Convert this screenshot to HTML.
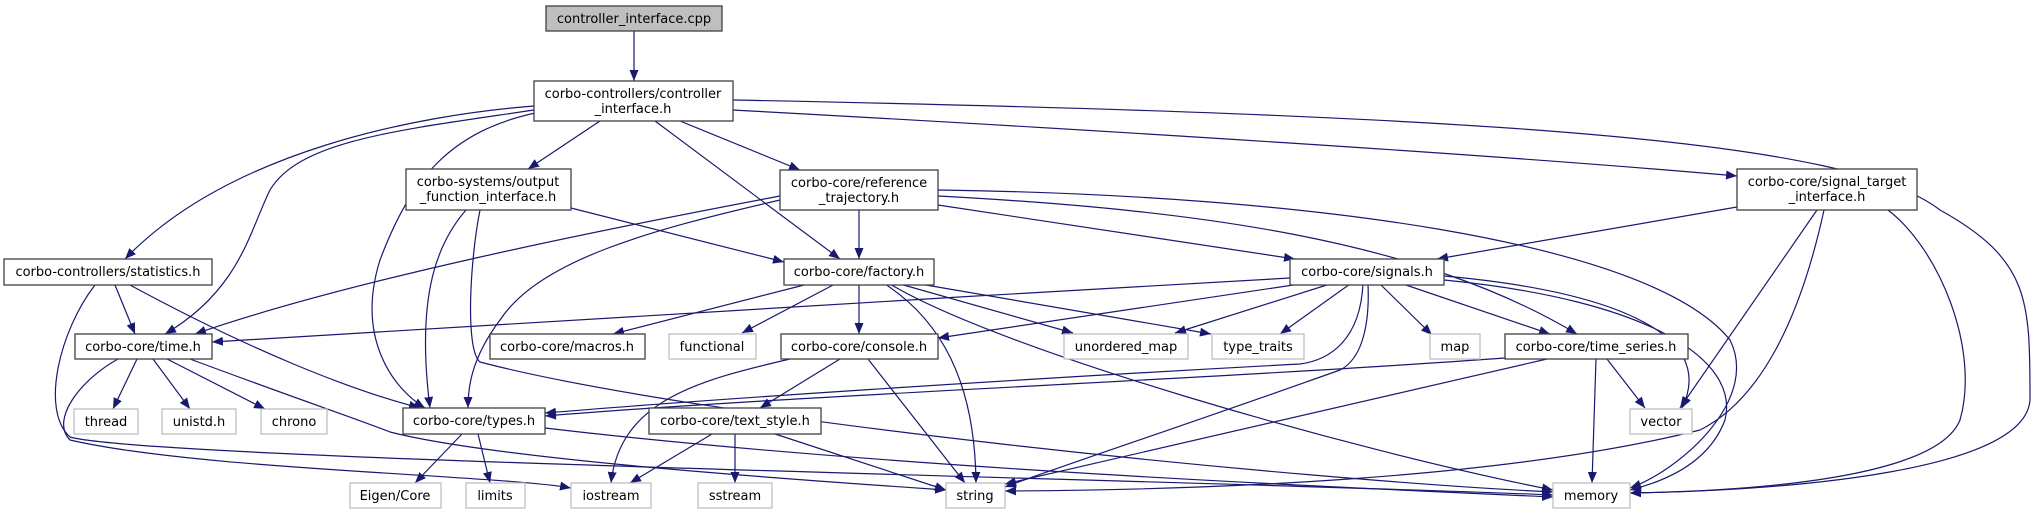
<!DOCTYPE html>
<html><head><meta charset="utf-8"><style>
html,body{margin:0;padding:0;background:#fff;}
svg{display:block;}
text{font-family:"DejaVu Sans","Liberation Sans",sans-serif;font-size:13px;fill:#000;}
.n{fill:#fff;stroke:#404040;stroke-width:1.3;}
.g{fill:#fff;stroke:#bfbfbf;stroke-width:1.3;}
.e{fill:none;stroke:#191970;stroke-width:1.2;marker-end:url(#a);}
</style></head><body>
<svg width="2035" height="515" viewBox="0 0 2035 515" xmlns="http://www.w3.org/2000/svg">
<defs><marker id="a" markerUnits="userSpaceOnUse" markerWidth="12" markerHeight="10" refX="11" refY="4.5" orient="auto"><path d="M0,0 L11,4.5 L0,9 Z" fill="#191970"/></marker></defs>
<rect width="2035" height="515" fill="#fff"/>
<g>
<path class="e" d="M634,31 L634,81"/>
<path class="e" d="M534,106 C420,115 230,150 125,259"/>
<path class="e" d="M534,110 C400,130 300,140 270,190 C250,230 240,290 165,334"/>
<path class="e" d="M540,112 C450,130 410,180 380,260 C355,340 395,390 425,408"/>
<path class="e" d="M600,121 L528,169"/>
<path class="e" d="M655,121 L840,259"/>
<path class="e" d="M680,121 L800,170"/>
<path class="e" d="M733,110 C1100,130 1500,155 1737,176"/>
<path class="e" d="M733,100 C1500,115 1850,140 1940,210 C2030,260 2030,300 2030,400 C2025,470 1800,490 1630,493"/>
<path class="e" d="M571,208 L784,262"/>
<path class="e" d="M466,210 C440,240 415,290 430,408"/>
<path class="e" d="M480,210 C470,260 465,350 480,362 C700,420 1300,480 1553,492"/>
<path class="e" d="M780,196 C600,230 350,280 195,334"/>
<path class="e" d="M780,200 C650,230 540,260 500,320 C470,360 468,390 468,408"/>
<path class="e" d="M859,210 L859,259"/>
<path class="e" d="M938,205 L1295,259"/>
<path class="e" d="M938,196 C1200,210 1420,240 1577,334"/>
<path class="e" d="M938,190 C1300,195 1650,240 1730,340 C1760,400 1680,470 1630,488"/>
<path class="e" d="M115,285 L135,334"/>
<path class="e" d="M130,285 C250,350 350,390 420,408"/>
<path class="e" d="M95,285 C60,330 40,410 70,437 C150,460 1200,480 1553,495"/>
<path class="e" d="M137,359 L113,409"/>
<path class="e" d="M153,359 L190,409"/>
<path class="e" d="M167,359 L265,409"/>
<path class="e" d="M118,359 C80,380 50,420 70,440 C200,470 500,475 571,488"/>
<path class="e" d="M190,359 C300,400 360,420 390,432 C500,460 800,480 946,490"/>
<path class="e" d="M462,434 L415,483"/>
<path class="e" d="M478,434 L490,483"/>
<path class="e" d="M545,428 C900,470 1400,490 1553,497"/>
<path class="e" d="M808,284 L613,334"/>
<path class="e" d="M835,284 L742,333"/>
<path class="e" d="M859,284 L859,334"/>
<path class="e" d="M885,284 C940,320 975,380 976,483"/>
<path class="e" d="M900,284 L1073,333"/>
<path class="e" d="M920,284 L1211,334"/>
<path class="e" d="M890,284 C1000,350 1350,450 1553,490"/>
<path class="e" d="M790,359 C700,380 620,400 611,483"/>
<path class="e" d="M840,359 L760,408"/>
<path class="e" d="M868,359 L965,483"/>
<path class="e" d="M712,434 L630,483"/>
<path class="e" d="M735,434 L735,483"/>
<path class="e" d="M775,434 L946,490"/>
<path class="e" d="M1290,278 C900,300 400,330 212,342"/>
<path class="e" d="M1300,284 L938,338"/>
<path class="e" d="M1330,284 L1175,333"/>
<path class="e" d="M1350,284 L1280,334"/>
<path class="e" d="M1380,284 L1432,335"/>
<path class="e" d="M1403,284 L1550,334"/>
<path class="e" d="M1444,276 C1600,290 1720,330 1682,408"/>
<path class="e" d="M1444,280 C1650,300 1740,360 1725,420 C1710,460 1670,480 1630,490"/>
<path class="e" d="M1368,284 C1370,330 1360,360 1340,370 C1200,420 1050,470 1005,487"/>
<path class="e" d="M1363,284 C1360,340 1330,360 1300,364 C1000,380 700,400 545,413"/>
<path class="e" d="M1505,358 C1200,380 800,395 545,416"/>
<path class="e" d="M1547,359 L1005,484"/>
<path class="e" d="M1596,359 L1592,483"/>
<path class="e" d="M1607,359 L1645,408"/>
<path class="e" d="M1737,207 L1437,259"/>
<path class="e" d="M1817,210 L1680,408"/>
<path class="e" d="M1824,210 C1800,320 1760,400 1700,430 C1500,480 1200,490 1005,491"/>
<path class="e" d="M1888,210 C1940,250 1980,350 1960,420 C1940,470 1800,490 1630,493"/>
</g>
<g>
<rect x="546" y="6" width="176" height="25" fill="#bfbfbf" stroke="#404040" stroke-width="1.3"/>
<text x="634" y="23" text-anchor="middle">controller_interface.cpp</text>
<rect class="n" x="534" y="81" width="199" height="40"/>
<text x="633" y="98" text-anchor="middle">corbo-controllers/controller</text>
<text x="633" y="113" text-anchor="middle">_interface.h</text>
<rect class="n" x="406" y="169" width="165" height="41"/>
<text x="488" y="186" text-anchor="middle">corbo-systems/output</text>
<text x="488" y="201" text-anchor="middle">_function_interface.h</text>
<rect class="n" x="780" y="170" width="158" height="40"/>
<text x="859" y="187" text-anchor="middle">corbo-core/reference</text>
<text x="859" y="202" text-anchor="middle">_trajectory.h</text>
<rect class="n" x="1737" y="169" width="180" height="41"/>
<text x="1827" y="186" text-anchor="middle">corbo-core/signal_target</text>
<text x="1827" y="201" text-anchor="middle">_interface.h</text>
<rect class="n" x="4" y="259" width="208" height="26"/>
<text x="108" y="276" text-anchor="middle">corbo-controllers/statistics.h</text>
<rect class="n" x="784" y="259" width="150" height="26"/>
<text x="859" y="276" text-anchor="middle">corbo-core/factory.h</text>
<rect class="n" x="1290" y="259" width="154" height="26"/>
<text x="1367" y="276" text-anchor="middle">corbo-core/signals.h</text>
<rect class="n" x="75" y="334" width="137" height="25"/>
<text x="143" y="351" text-anchor="middle">corbo-core/time.h</text>
<rect class="n" x="490" y="334" width="155" height="25"/>
<text x="567" y="351" text-anchor="middle">corbo-core/macros.h</text>
<rect class="g" x="669" y="334" width="87" height="25"/>
<text x="712" y="351" text-anchor="middle">functional</text>
<rect class="n" x="781" y="334" width="157" height="25"/>
<text x="859" y="351" text-anchor="middle">corbo-core/console.h</text>
<rect class="g" x="1064" y="334" width="124" height="25"/>
<text x="1126" y="351" text-anchor="middle">unordered_map</text>
<rect class="g" x="1212" y="334" width="92" height="25"/>
<text x="1258" y="351" text-anchor="middle">type_traits</text>
<rect class="g" x="1430" y="334" width="50" height="25"/>
<text x="1455" y="351" text-anchor="middle">map</text>
<rect class="n" x="1505" y="334" width="183" height="25"/>
<text x="1596" y="351" text-anchor="middle">corbo-core/time_series.h</text>
<rect class="g" x="74" y="409" width="64" height="25"/>
<text x="106" y="426" text-anchor="middle">thread</text>
<rect class="g" x="162" y="409" width="74" height="25"/>
<text x="199" y="426" text-anchor="middle">unistd.h</text>
<rect class="g" x="261" y="409" width="66" height="25"/>
<text x="294" y="426" text-anchor="middle">chrono</text>
<rect class="n" x="403" y="408" width="142" height="26"/>
<text x="474" y="425" text-anchor="middle">corbo-core/types.h</text>
<rect class="n" x="649" y="408" width="172" height="26"/>
<text x="735" y="425" text-anchor="middle">corbo-core/text_style.h</text>
<rect class="g" x="1630" y="409" width="62" height="25"/>
<text x="1661" y="426" text-anchor="middle">vector</text>
<rect class="g" x="350" y="483" width="91" height="25"/>
<text x="395" y="500" text-anchor="middle">Eigen/Core</text>
<rect class="g" x="466" y="483" width="59" height="25"/>
<text x="495" y="500" text-anchor="middle">limits</text>
<rect class="g" x="571" y="483" width="80" height="25"/>
<text x="611" y="500" text-anchor="middle">iostream</text>
<rect class="g" x="698" y="483" width="74" height="25"/>
<text x="735" y="500" text-anchor="middle">sstream</text>
<rect class="g" x="946" y="483" width="59" height="25"/>
<text x="975" y="500" text-anchor="middle">string</text>
<rect class="g" x="1553" y="483" width="77" height="25"/>
<text x="1591" y="500" text-anchor="middle">memory</text>
</g>
</svg>
</body></html>
